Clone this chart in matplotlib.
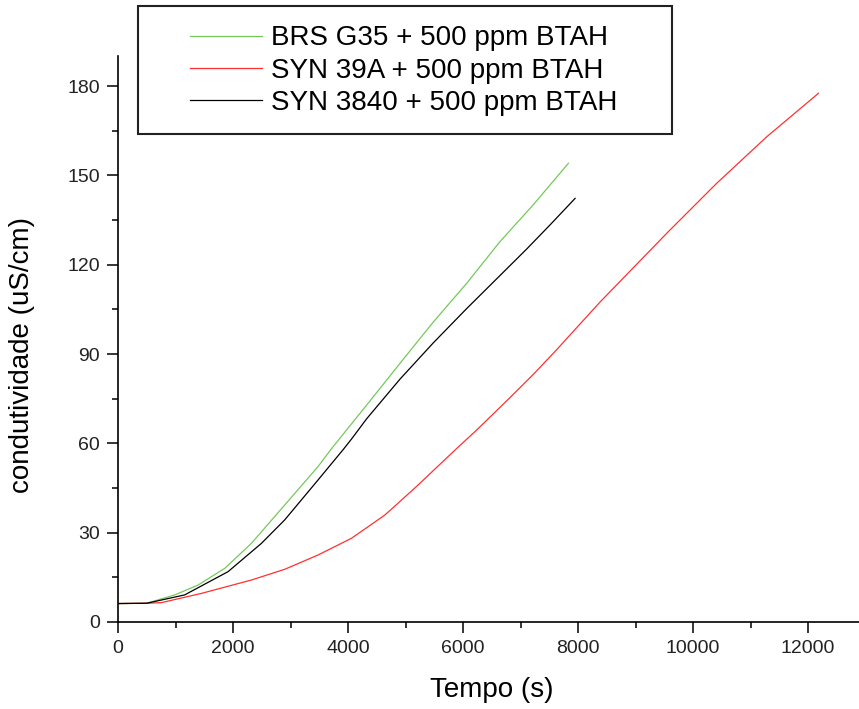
import matplotlib
matplotlib.use("Agg")
import matplotlib.pyplot as plt
from matplotlib.patches import Rectangle
from matplotlib.ticker import MultipleLocator

plt.rcParams['font.family'] = ['Liberation Sans', 'DejaVu Sans']

# dados
green_t = [0, 500, 986, 1391, 1855, 2319, 2899, 3478, 3716, 4116, 4325, 4904, 5484, 6064, 6643, 7223, 7832]
green_c = [6.2, 6.3, 9.1, 12.4, 18.0, 26.4, 39.3, 52.2, 58.3, 67.9, 72.9, 86.9, 100.8, 113.8, 127.8, 140.2, 154.1]

red_t = [0, 500, 754, 1449, 2319, 2899, 3478, 4058, 4638, 4904, 5217, 5890, 6238, 6817, 7223, 7629,
         8383, 9543, 10412, 11281, 12180]
red_c = [6.2, 6.3, 6.5, 9.6, 14.1, 17.7, 22.5, 28.1, 35.9, 40.5, 46.0, 58.3, 64.5, 75.4, 83.2, 91.5,
         107.5, 130.6, 147.4, 163.0, 177.6]

black_t = [0, 500, 1159, 1913, 2493, 2899, 3478, 3919, 4058, 4325, 4904, 5484, 6064, 6643, 7107, 7513, 7948]
black_c = [6.2, 6.3, 9.1, 16.9, 26.4, 34.3, 47.7, 58.0, 61.4, 68.3, 81.6, 93.8, 105.3, 116.4, 125.3, 133.4, 142.3]

labels = ['BRS G35 + 500 ppm BTAH', 'SYN 39A + 500 ppm BTAH', 'SYN 3840 + 500 ppm BTAH']

fig = plt.figure(figsize=(8.59, 7.09), dpi=100)
ax = fig.add_axes([118/859, 1-622/709, (859-118)/859, (622-56.4)/709])

ax.plot(green_t, green_c, color='#74c95a', lw=0.9, label=labels[0])
ax.plot(red_t, red_c, color='#ff3030', lw=0.9, label=labels[1])
ax.plot(black_t, black_c, color='black', lw=0.9, label=labels[2])

ax.set_xlim(0, 12885)
ax.set_ylim(0, 190)
ax.spines['top'].set_visible(False)
ax.spines['right'].set_visible(False)
for s in ['left', 'bottom']:
    ax.spines[s].set_linewidth(1.2)

ax.xaxis.set_major_locator(MultipleLocator(2000))
ax.xaxis.set_minor_locator(MultipleLocator(1000))
ax.yaxis.set_major_locator(MultipleLocator(30))
ax.yaxis.set_minor_locator(MultipleLocator(15))
ax.tick_params(which='major', direction='out', length=8, width=1.1, labelsize=14,
               labelcolor='#222222', pad=5)
ax.tick_params(which='minor', direction='out', length=4.5, width=1.1)

ax.set_xlabel('Tempo (s)', fontsize=20)
ax.set_ylabel('condutividade (uS/cm)', fontsize=20)
ax.xaxis.set_label_coords(0.505, -0.097)
ax.yaxis.set_label_coords(-0.112, 0.472)

leg = fig.legend(loc='center left', bbox_to_anchor=(190/859, 1-70.5/709), frameon=False,
                 fontsize=20, handlelength=2.6, handletextpad=0.3, labelspacing=0.22,
                 borderpad=0, borderaxespad=0)

fig.patches.append(Rectangle((138/859, 1-134/709), (672-138)/859, (134-6)/709,
                             transform=fig.transFigure, fill=False, edgecolor='#222222', lw=1.5))

fig.savefig('out.png', dpi=100)
